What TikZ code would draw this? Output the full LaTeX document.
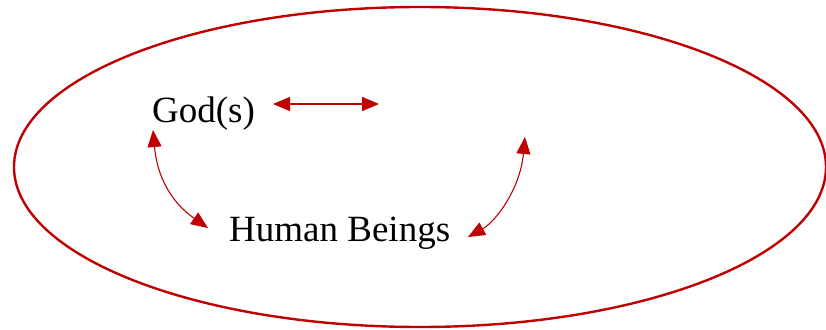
\documentclass[tikz,border=0pt]{standalone}
\usepackage{fontspec}
\setmainfont{Liberation Serif}
\usetikzlibrary{arrows.meta}
\definecolor{dred}{RGB}{192,0,0}
\begin{document}
\begin{tikzpicture}[x=1pt,y=-1pt,
  lbl/.style={anchor=base west,inner sep=0pt,font=\fontsize{37}{42}\selectfont},
  rel/.style={draw=dred,line width=1.1pt,{Triangle[length=17pt,width=14pt]}-{Triangle[length=17pt,width=14pt]}},
  frame/.style={draw=dred,line width=2.4pt}]
\useasboundingbox (0,0) rectangle (826,329);
\draw[frame] (420,167) ellipse [x radius=406, y radius=160];
\node[lbl] (god) at (152,122) {God(s)};
\node[lbl] (human) at (229,241) {Human Beings};
\coordinate (hl) at (273,104);
\coordinate (hr) at (379,104);
\coordinate (gs) at (153,130);
\coordinate (hw) at (208,228);
\coordinate (he) at (468,237);
\coordinate (rt) at (525,137);
\draw[rel] (hl) -- (hr);
\draw[rel] (gs) .. controls (158,185) and (178,207) .. (hw);
\draw[rel] (rt) .. controls (520,190) and (495,222) .. (he);
\end{tikzpicture}
\end{document}
